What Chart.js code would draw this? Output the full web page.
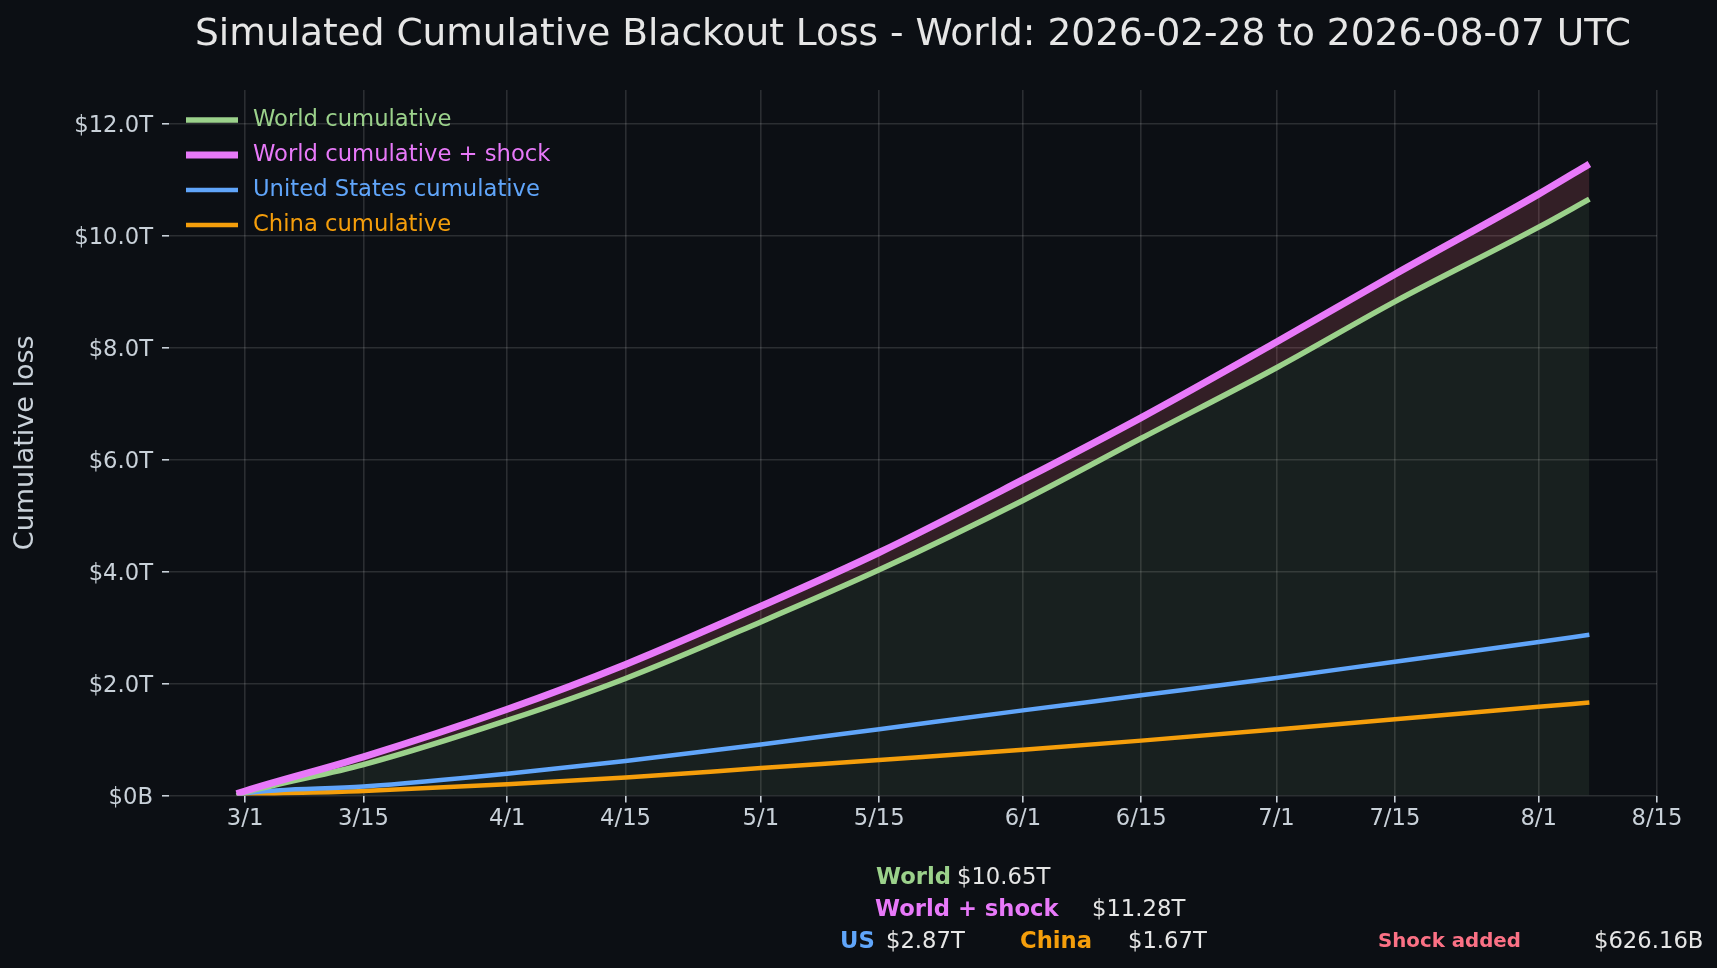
<!DOCTYPE html>
<html>
<head>
<meta charset="utf-8">
<title>Simulated Cumulative Blackout Loss</title>
<script src="https://cdn.jsdelivr.net/npm/chart.js@4.4.1/dist/chart.umd.min.js"></script>
<style>
    html, body { margin: 0; padding: 0; background: #0c0f14; }
    #wrap { width: 1717px; height: 968px; }
</style>
</head>
<body>
<div id="wrap"><canvas id="lossChart" width="1717" height="968"></canvas></div>
<script>
// days counted from 2026-03-01 (so 2026-02-28 is -1, 2026-08-07 is 159)
const sampleDays = [-1, 0, 14, 31, 45, 61, 75, 92, 106, 122, 136, 153, 159];

// cumulative loss, trillions of USD
const worldCum = [0.0, 0.05, 0.55, 1.34, 2.09, 3.10, 4.03, 5.27, 6.38, 7.64, 8.82, 10.15, 10.65];
const worldShockCum = [0.03, 0.08, 0.69, 1.54, 2.34, 3.38, 4.34, 5.64, 6.75, 8.10, 9.31, 10.74, 11.28];
const usCum = [0.0, 0.035, 0.16, 0.39, 0.615, 0.91, 1.185, 1.52, 1.79, 2.10, 2.39, 2.74, 2.87];
const chinaCum = [0.0, 0.01, 0.08, 0.20, 0.32, 0.49, 0.635, 0.815, 0.98, 1.18, 1.36, 1.585, 1.66];

const xTickDays = [0, 14, 31, 45, 61, 75, 92, 106, 122, 136, 153, 167];
const xTickLabels = ['3/1', '3/15', '4/1', '4/15', '5/1', '5/15', '6/1', '6/15', '7/1', '7/15', '8/1', '8/15'];
const yTickValues = [0, 2, 4, 6, 8, 10, 12];

const seriesLabels = ['World cumulative', 'World cumulative + shock', 'United States cumulative', 'China cumulative'];
const seriesColors = ['#9bd18b', '#e879f9', '#60a5fa', '#f59e0b'];
const seriesWidths = [5.5, 7, 4.5, 4.5];

// footer summary
const summaryRows = [
    { key: 'World', value: '$10.65T', color: '#9bd18b', kx: 876, vx: 957, y: 878 },
    { key: 'World + shock', value: '$11.28T', color: '#e879f9', kx: 875, vx: 1092, y: 910 },
    { key: 'US', value: '$2.87T', color: '#60a5fa', kx: 840, vx: 886, y: 942 },
    { key: 'China', value: '$1.67T', color: '#f59e0b', kx: 1020, vx: 1128, y: 942 },
    { key: 'Shock added', value: '$626.16B', color: '#fb7185', kx: 1378, vx: 1594, y: 942, small: true }
];

const TEXT = '#c9d1d9';
const GRID = 'rgba(255,255,255,0.13)';
const FS = 22.7;
Chart.defaults.font.family = "'DejaVu Sans', sans-serif";

function points(values) {
    return sampleDays.map((d, i) => ({ x: d, y: values[i] }));
}

const figureText = {
    id: 'figureText',
    afterDraw(chart) {
        const ctx = chart.ctx;
        ctx.save();
        // legend, top-left of the plot
        ctx.textBaseline = 'middle';
        ctx.textAlign = 'left';
        ctx.font = FS + "px 'DejaVu Sans'";
        seriesLabels.forEach((label, i) => {
            const y = 120 + i * 35;
            ctx.strokeStyle = seriesColors[i];
            ctx.lineWidth = seriesWidths[i];
            ctx.beginPath();
            ctx.moveTo(186, y);
            ctx.lineTo(238, y);
            ctx.stroke();
            ctx.fillStyle = seriesColors[i];
            ctx.fillText(label, 253, y);
        });
        // summary under the axis
        summaryRows.forEach(r => {
            ctx.font = r.small ? "bold 19.8px 'DejaVu Sans'" : "bold " + FS + "px 'DejaVu Sans'";
            ctx.fillStyle = r.color;
            ctx.fillText(r.key, r.kx, r.y);
            ctx.font = FS + "px 'DejaVu Sans'";
            ctx.fillStyle = '#e6e6e6';
            ctx.fillText(r.value, r.vx, r.y);
        });
        ctx.restore();
    }
};

const ctx = document.getElementById('lossChart').getContext('2d');
new Chart(ctx, {
    type: 'line',
    data: {
        datasets: [
            {
                label: seriesLabels[0],
                data: points(worldCum),
                borderColor: seriesColors[0],
                borderWidth: seriesWidths[0],
                backgroundColor: 'rgba(155,209,139,0.09)',
                fill: 'origin',
                order: 1
            },
            {
                label: seriesLabels[1],
                data: points(worldShockCum),
                borderColor: seriesColors[1],
                borderWidth: seriesWidths[1],
                backgroundColor: 'rgba(251,113,133,0.17)',
                fill: { target: 0 },
                order: 0
            },
            {
                label: seriesLabels[2],
                data: points(usCum),
                borderColor: seriesColors[2],
                borderWidth: seriesWidths[2],
                fill: false,
                order: 2
            },
            {
                label: seriesLabels[3],
                data: points(chinaCum),
                borderColor: seriesColors[3],
                borderWidth: seriesWidths[3],
                fill: false,
                order: 3
            }
        ]
    },
    options: {
        responsive: false,
        animation: false,
        devicePixelRatio: 1,
        elements: {
            point: { radius: 0 },
            line: { cubicInterpolationMode: 'monotone', borderCapStyle: 'butt' }
        },
        layout: { padding: { left: 0, right: 60, top: 0, bottom: 132.5 } },
        plugins: {
            legend: { display: false },
            tooltip: { enabled: false },
            filler: { drawTime: 'beforeDatasetsDraw' },
            title: {
                display: true,
                fullSize: false,
                text: 'Simulated Cumulative Blackout Loss - World: 2026-02-28 to 2026-08-07 UTC',
                color: '#e6e6e6',
                font: { size: 37.5, weight: 'normal' },
                padding: { top: 12.5, bottom: 32.5 }
            }
        },
        scales: {
            x: {
                type: 'linear',
                min: -9,
                max: 167,
                afterBuildTicks: axis => { axis.ticks = xTickDays.map(v => ({ value: v })); },
                afterFit: scale => { scale.height = 40; },
                ticks: {
                    callback: (v, i) => xTickLabels[i],
                    color: TEXT,
                    font: { size: FS },
                    padding: 3,
                    maxRotation: 0,
                    autoSkip: false
                },
                grid: { color: GRID, lineWidth: 1.6, tickColor: TEXT, tickLength: 7, tickWidth: 1.6 },
                border: { display: false }
            },
            y: {
                type: 'linear',
                min: 0,
                max: 12.6,
                afterBuildTicks: axis => { axis.ticks = yTickValues.map(v => ({ value: v })); },
                afterFit: scale => { scale.width = 169; },
                ticks: {
                    callback: v => v === 0 ? '$0B' : '$' + v.toFixed(1) + 'T',
                    color: TEXT,
                    font: { size: FS },
                    padding: 9,
                    labelOffset: 2.5
                },
                title: {
                    display: true,
                    text: 'Cumulative loss',
                    color: TEXT,
                    font: { size: 27 },
                    padding: { top: 10, bottom: 0 }
                },
                grid: { color: GRID, lineWidth: 1.6, tickColor: TEXT, tickLength: 7, tickWidth: 1.6 },
                border: { display: false }
            }
        }
    },
    plugins: [figureText]
});
</script>
</body>
</html>
